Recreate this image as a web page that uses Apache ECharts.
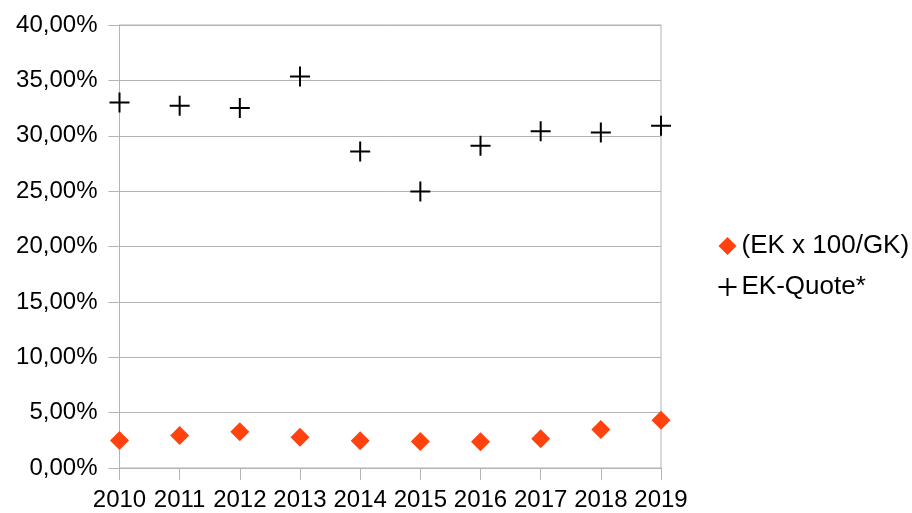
<!DOCTYPE html>
<html>
<head>
<meta charset="utf-8">
<script src="https://cdn.jsdelivr.net/npm/echarts@6/dist/echarts.min.js"></script>
<style>html,body{margin:0;padding:0;background:#fff}#c{width:912px;height:513px}</style>
</head>
<body>
<div id="c"></div>
<script>
var years = ['2010','2011','2012','2013','2014','2015','2016','2017','2018','2019'];
var ekGk = [2.48, 2.93, 3.27, 2.78, 2.45, 2.39, 2.36, 2.63, 3.47, 4.31];
var ekQuote = [33.0, 32.7, 32.5, 35.36, 28.57, 24.96, 29.1, 30.4, 30.3, 30.9];
var seriesNames = ['(EK x 100/GK)', 'EK-Quote*'];

var crossPath = 'path://M0 10H20M10 0V20';
var font = 'Liberation Sans';
var chart = echarts.init(document.getElementById('c'));
chart.setOption({
  backgroundColor: '#fff',
  animation: false,
  textStyle: {fontFamily: font},
  grid: {left: 119.5, right: 251, top: 25, bottom: 45, show: true, borderColor: '#b3b3b3', borderWidth: 1, containLabel: false},
  legend: {
    orient: 'vertical', left: 716, top: 233, padding: 0, itemGap: 15, itemWidth: 18, itemHeight: 18,
    textStyle: {fontFamily: font, fontSize: 26, color: '#000', lineHeight: 26},
    data: [
      {name: seriesNames[0], icon: 'diamond', itemStyle: {color: '#ff420e'}},
      {name: seriesNames[1], icon: crossPath, itemStyle: {color: 'none', borderColor: '#000', borderWidth: 2}}
    ]
  },
  xAxis: {
    type: 'category', data: years, boundaryGap: false,
    axisLine: {lineStyle: {color: '#b3b3b3', width: 1}},
    axisTick: {show: true, length: 12, alignWithLabel: true, lineStyle: {color: '#b3b3b3'}},
    axisLabel: {color: '#000', fontSize: 24, fontFamily: font, margin: 20, interval: 0},
    splitLine: {show: false}
  },
  yAxis: {
    type: 'value', min: 0, max: 40, interval: 5,
    axisLine: {show: true, lineStyle: {color: '#b3b3b3', width: 1}},
    axisTick: {show: true, length: 11, lineStyle: {color: '#b3b3b3'}},
    axisLabel: {color: '#000', fontSize: 24, fontFamily: font, margin: 22,
      formatter: function (v) { return v.toFixed(2).replace('.', ',') + '%'; }},
    splitLine: {show: true, lineStyle: {color: '#b3b3b3', width: 1}}
  },
  series: [
    {name: seriesNames[0], type: 'scatter', data: ekGk, symbol: 'diamond', symbolSize: 19,
     itemStyle: {color: '#ff420e', opacity: 1}},
    {name: seriesNames[1], type: 'scatter', data: ekQuote, symbol: crossPath, symbolSize: 20,
     itemStyle: {color: 'none', borderColor: '#000', borderWidth: 2, opacity: 1}}
  ]
});
</script>
</body>
</html>
